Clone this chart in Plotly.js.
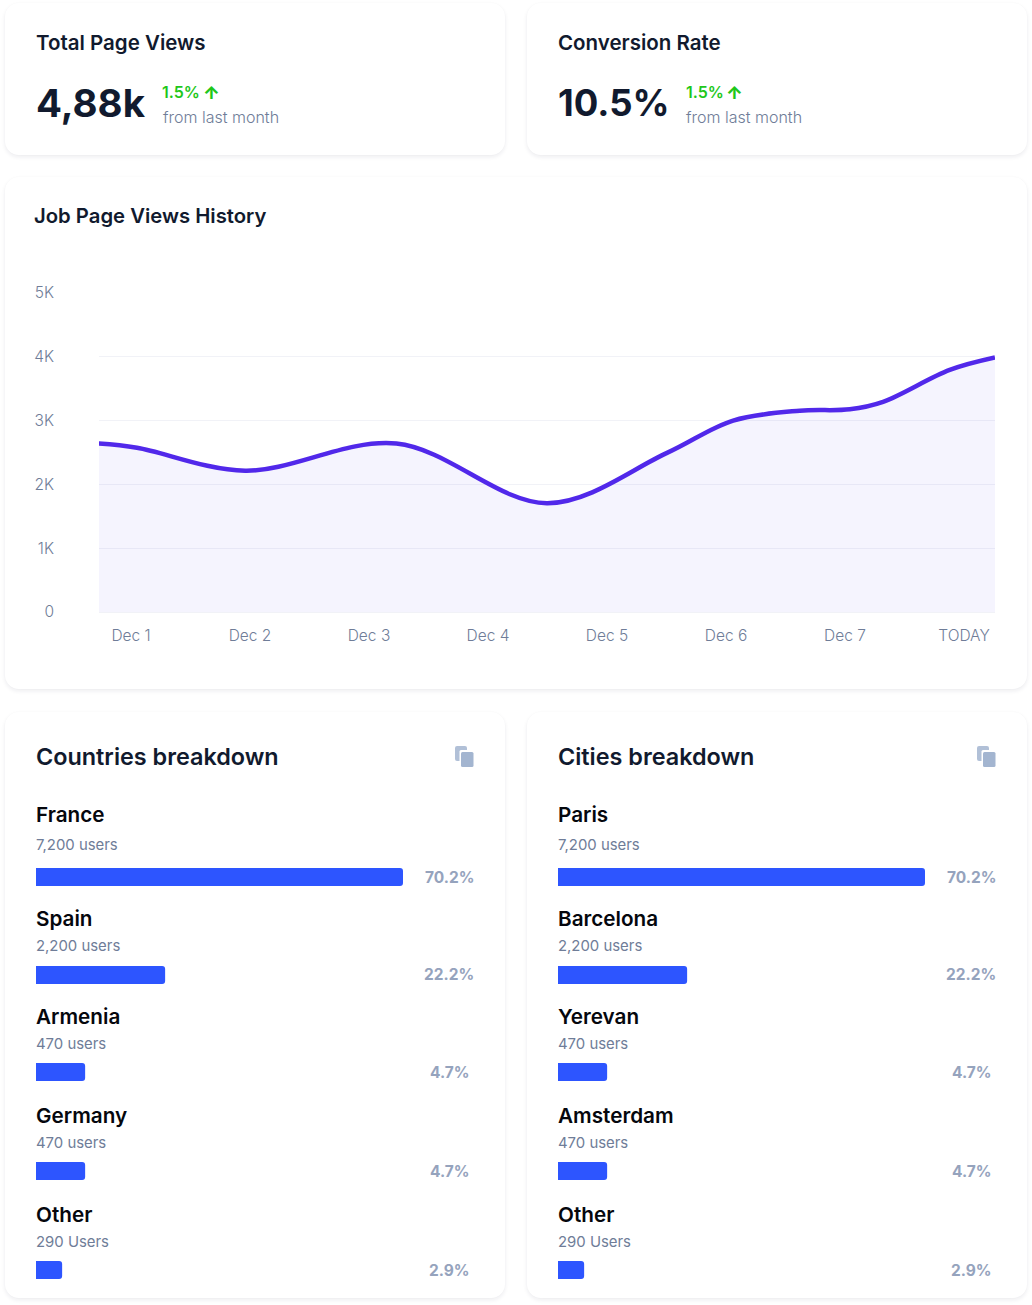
<!DOCTYPE html>
<html><head><meta charset="utf-8">
<script src="https://cdn.plot.ly/plotly-3.0.1.min.js"></script>
<style>
html,body{margin:0;padding:0;background:#fff;width:1032px;height:1305px;overflow:hidden}
.card{position:absolute;background:#fff;border-radius:14px;box-shadow:0 2px 4px rgba(20,30,60,.08),0 0 2px rgba(20,30,60,.02)}
#chart{position:absolute;left:0;top:0;width:1032px;height:1305px}
</style></head><body>
<div class="card" style="left:5px;top:3px;width:500px;height:152px"></div>
<div class="card" style="left:527px;top:3px;width:500px;height:152px"></div>
<div class="card" style="left:5px;top:177px;width:1022px;height:512px"></div>
<div class="card" style="left:5px;top:712px;width:500px;height:586px"></div>
<div class="card" style="left:527px;top:712px;width:500px;height:586px"></div>
<div id="chart"></div>
<script>
// ---- data ----
const dayLabels = ['Dec 1','Dec 2','Dec 3','Dec 4','Dec 5','Dec 6','Dec 7','TODAY'];
const historyDays  = [-0.27,0.05,0.96,2.23,3.50,4.50,5.06,5.62,6.04,6.32,6.88,7.26];
const historyViews = [2640,2575,2215,2640,1705,2490,3000,3155,3177,3295,3795,3990];
const yTickValues = [0,1000,2000,3000,4000,5000];
const yTickLabels = ['0','1K','2K','3K','4K','5K'];

const countries = ['France','Spain','Armenia','Germany','Other'];
const countryUsers = ['7,200 users','2,200 users','470 users','470 users','290 Users'];
const countryShares = ['70.2%','22.2%','4.7%','4.7%','2.9%'];
const countryBars = [70.2,24.7,9.4,9.4,5.0];

const cities = ['Paris','Barcelona','Yerevan','Amsterdam','Other'];
const cityUsers = ['7,200 users','2,200 users','470 users','470 users','290 Users'];
const cityShares = ['70.2%','22.2%','4.7%','4.7%','2.9%'];
const cityBars = [70.2,24.7,9.4,9.4,5.0];

const kpiTitles = ['Total Page Views','Conversion Rate'];
const kpiValues = ['4,88k','10.5%'];
const kpiChange = '1.5%';
const kpiNote = 'from last month';

// ---- layout helpers (page pixels -> paper) ----
const W=1032,H=1305,FONT='Inter, sans-serif';
const px=x=>x/W, py=y=>1-y/H;
const INK='#111a2e',GREY='#6f7d98',BAR='#2d55ff',SHARE='#95a3bd',GREEN='#1fc71a',ICON='#a3b5d0';
const ann=[];
function T(text,x,y,size,color,weight,anchor){
  ann.push({text:text,x:px(x),y:py(y),xref:'paper',yref:'paper',showarrow:false,borderpad:0,borderwidth:0,
    xanchor:anchor||'left',yanchor:'middle',font:{family:FONT,size:size,color:color,weight:weight||400}});
}
// KPI cards
[0,522].forEach((dx,i)=>{
  T(kpiTitles[i],36+dx,42.5,20.5,INK,600);
  T(kpiValues[i],36+dx,103,i?36.5:38.5,INK,700);
  T(kpiChange,i?686:162,92,16,GREEN,600);
  T('↑',i?726:203,92,18,GREEN,800);
  T(kpiNote,i?686:163,117,16,GREY,300);
});
T('Job Page Views History',34,215.5,20.3,INK,600);

// breakdown cards
const nameY=[814.6,918.6,1016.6,1115.6,1214.6], userY=[844.6,945.6,1043.6,1142.6,1241.6], barY=[877,975,1072,1171,1270];
const sharesCx=449.5;
[[0,'Countries breakdown',countries,countryUsers,countryShares],[522,'Cities breakdown',cities,cityUsers,cityShares]].forEach(c=>{
  const dx=c[0];
  T(c[1],36+dx,756.5,23.4,INK,600);
  c[2].forEach((n,i)=>{
    T(n,36+dx,nameY[i],20.7,'#05070d',600);
    T(c[3][i],36+dx,userY[i],14.9,GREY,400);
    T(c[4][i],sharesCx+dx-(i==1?1:0),barY[i]-(i==1?1:0),15.5,SHARE,700,'center');
  });
});

// copy icons
function rr(x0,y0,x1,y1,r){ // rounded rect path in paper coordinates
  const X=px,Y=py;
  return `M${X(x0+r)},${Y(y0)}L${X(x1-r)},${Y(y0)}Q${X(x1)},${Y(y0)} ${X(x1)},${Y(y0+r)}L${X(x1)},${Y(y1-r)}Q${X(x1)},${Y(y1)} ${X(x1-r)},${Y(y1)}L${X(x0+r)},${Y(y1)}Q${X(x0)},${Y(y1)} ${X(x0)},${Y(y1-r)}L${X(x0)},${Y(y0+r)}Q${X(x0)},${Y(y0)} ${X(x0+r)},${Y(y0)}Z`;
}
const shapes=[];
[0,522].forEach(dx=>{
  shapes.push({type:'path',xref:'paper',yref:'paper',path:rr(455+dx,746,467+dx,761,2),fillcolor:ICON,opacity:.85,line:{width:0}});
  shapes.push({type:'path',xref:'paper',yref:'paper',path:rr(459.5+dx,750,474.5+dx,768,1.5),fillcolor:'#ffffff',line:{width:0}});
  shapes.push({type:'path',xref:'paper',yref:'paper',path:rr(461+dx,752,473.5+dx,767,1.5),fillcolor:ICON,line:{width:0}});
});

// bars
const rowStep=(1270-877)/4, barW=18/rowStep;
const barOffsets=barY.map((y,i)=>(y-(877+i*rowStep))/rowStep-barW/2);
const rowTop=877-0.1*rowStep, rowBottom=1270+0.1*rowStep;
function barTrace(names,vals,ax,ay){
  return {type:'bar',orientation:'h',y:names.map((_,i)=>i),x:vals,xaxis:ax,yaxis:ay,width:barW,offset:barOffsets,
    marker:{color:BAR,line:{width:0}},hoverinfo:'skip'};
}
function barX(x0,x1,anchor){return {domain:[px(x0),px(x1)],range:[0,70.2],visible:false,fixedrange:true,anchor:anchor};}
function barYAxis(anchor){return {domain:[py(rowBottom),py(rowTop)],range:[4.1,-0.1],visible:false,fixedrange:true,anchor:anchor};}

const tickFont={family:FONT,size:15.5,color:GREY,weight:300};
const GRID='#f1f2f7';
const layout={
  width:W,height:H,margin:{l:0,r:0,t:0,b:0},paper_bgcolor:'rgba(0,0,0,0)',plot_bgcolor:'rgba(0,0,0,0)',
  showlegend:false,barcornerradius:3,
  font:{family:FONT},
  annotations:ann,shapes:shapes,
  xaxis:{domain:[px(99),px(995)],range:[(99-131)/119,(995-131)/119],tickmode:'array',tickvals:dayLabels.map((_,i)=>i),ticktext:dayLabels,
    showgrid:false,zeroline:false,showline:false,ticks:'',tickfont:tickFont,ticklabelstandoff:12,fixedrange:true,anchor:'y'},
  yaxis:{domain:[py(612),py(293)],range:[0,5000],tickmode:'array',tickvals:yTickValues,ticktext:yTickLabels,
    showgrid:true,gridcolor:GRID,gridwidth:1,zeroline:true,zerolinecolor:GRID,zerolinewidth:1,showline:false,ticks:'',tickfont:tickFont,
    ticklabelstandoff:44,fixedrange:true,anchor:'x'},
  xaxis2:barX(36,403,'y2'),yaxis2:barYAxis('x2'),
  xaxis3:barX(558,925,'y3'),yaxis3:barYAxis('x3')
};
const data=[
  {type:'scatter',mode:'lines',x:historyDays,y:historyViews,line:{shape:'spline',smoothing:1,color:'#5128ea',width:4.5},
   fill:'tozeroy',fillcolor:'rgba(70,50,240,0.055)',hoverinfo:'skip',xaxis:'x',yaxis:'y'},
  barTrace(countries,countryBars,'x2','y2'),
  barTrace(cities,cityBars,'x3','y3')
];
Plotly.newPlot('chart',data,layout,{displayModeBar:false,staticPlot:true});
</script>
</body></html>
